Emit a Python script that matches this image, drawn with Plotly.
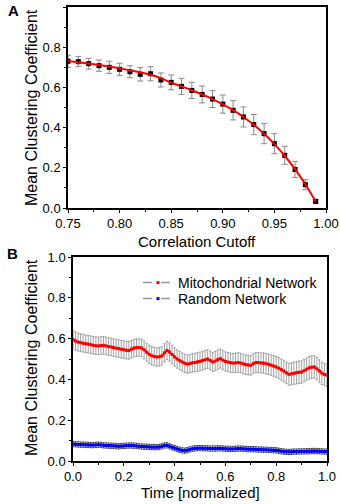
import plotly.graph_objects as go

# ---------- Panel A data ----------
cutoff = [0.75, 0.76, 0.77, 0.78, 0.79, 0.80, 0.81, 0.82, 0.83, 0.84, 0.85, 0.86, 0.87,
          0.88, 0.89, 0.90, 0.91, 0.92, 0.93, 0.94, 0.95, 0.96, 0.97, 0.98, 0.99]
clust_a = [0.730, 0.728, 0.718, 0.708, 0.700, 0.690, 0.678, 0.665, 0.668, 0.637, 0.625, 0.605, 0.585,
           0.565, 0.542, 0.517, 0.486, 0.453, 0.415, 0.370, 0.320, 0.262, 0.192, 0.116, 0.033]
err_a = [0.030, 0.025, 0.027, 0.028, 0.030, 0.030, 0.030, 0.033, 0.035, 0.035, 0.037, 0.040, 0.040,
         0.042, 0.042, 0.045, 0.048, 0.050, 0.050, 0.050, 0.050, 0.045, 0.040, 0.025, 0.010]
fit_a = [0.731, 0.725, 0.719, 0.712, 0.704, 0.695, 0.685, 0.675, 0.663, 0.646, 0.624, 0.605, 0.586,
         0.565, 0.542, 0.516, 0.487, 0.453, 0.414, 0.369, 0.318, 0.260, 0.193, 0.118, 0.032]

# ---------- Panel B data ----------
time_b = [round(i * 0.01, 2) for i in range(101)]
mito = [0.595, 0.588, 0.583, 0.580, 0.577, 0.575, 0.573, 0.570, 0.567, 0.565,
        0.564, 0.566, 0.567, 0.564, 0.561, 0.559, 0.556, 0.553, 0.551, 0.548,
        0.546, 0.543, 0.542, 0.548, 0.554, 0.556, 0.556, 0.554, 0.545, 0.533,
        0.523, 0.516, 0.512, 0.510, 0.511, 0.515, 0.530, 0.542, 0.534, 0.522,
        0.510, 0.500, 0.492, 0.485, 0.479, 0.475, 0.478, 0.481, 0.483, 0.485,
        0.488, 0.492, 0.496, 0.500, 0.493, 0.485, 0.490, 0.497, 0.502, 0.494,
        0.488, 0.485, 0.482, 0.480, 0.481, 0.483, 0.480, 0.476, 0.472, 0.470,
        0.469, 0.477, 0.483, 0.482, 0.481, 0.480, 0.477, 0.474, 0.470, 0.466,
        0.461, 0.455, 0.448, 0.441, 0.432, 0.425, 0.427, 0.430, 0.433, 0.435,
        0.436, 0.443, 0.450, 0.457, 0.460, 0.461, 0.452, 0.441, 0.430, 0.424,
        0.420]
mito_err = [0.045, 0.045, 0.044, 0.044, 0.043, 0.043, 0.043, 0.043, 0.043, 0.043,
            0.043, 0.043, 0.043, 0.043, 0.043, 0.043, 0.043, 0.043, 0.043, 0.043,
            0.043, 0.043, 0.043, 0.043, 0.043, 0.043, 0.043, 0.043, 0.044, 0.044,
            0.045, 0.045, 0.045, 0.045, 0.045, 0.045, 0.045, 0.045, 0.045, 0.045,
            0.045, 0.045, 0.045, 0.045, 0.045, 0.045, 0.045, 0.045, 0.045, 0.046,
            0.046, 0.046, 0.046, 0.046, 0.046, 0.046, 0.047, 0.047, 0.047, 0.047,
            0.047, 0.047, 0.047, 0.047, 0.048, 0.048, 0.048, 0.048, 0.048, 0.048,
            0.048, 0.049, 0.049, 0.049, 0.049, 0.050, 0.050, 0.050, 0.050, 0.051,
            0.051, 0.052, 0.052, 0.053, 0.053, 0.054, 0.054, 0.054, 0.055, 0.055,
            0.055, 0.055, 0.055, 0.055, 0.055, 0.055, 0.055, 0.055, 0.055, 0.055,
            0.055]
rand = [0.083, 0.082, 0.081, 0.080, 0.080, 0.079, 0.079, 0.078, 0.078, 0.079,
        0.080, 0.079, 0.077, 0.076, 0.075, 0.075, 0.074, 0.073, 0.072, 0.073,
        0.074, 0.075, 0.076, 0.076, 0.075, 0.074, 0.072, 0.071, 0.070, 0.070,
        0.069, 0.068, 0.068, 0.068, 0.069, 0.072, 0.076, 0.077, 0.072, 0.067,
        0.063, 0.059, 0.055, 0.052, 0.051, 0.053, 0.057, 0.060, 0.062, 0.063,
        0.063, 0.063, 0.062, 0.062, 0.061, 0.061, 0.061, 0.062, 0.062, 0.061,
        0.060, 0.059, 0.059, 0.059, 0.060, 0.061, 0.061, 0.060, 0.059, 0.058,
        0.058, 0.058, 0.057, 0.056, 0.056, 0.055, 0.055, 0.054, 0.054, 0.053,
        0.052, 0.050, 0.048, 0.046, 0.045, 0.044, 0.045, 0.046, 0.046, 0.047,
        0.047, 0.047, 0.048, 0.048, 0.049, 0.049, 0.049, 0.048, 0.047, 0.046,
        0.046]
rand_err = [0.013] * 101

FONT = "Liberation Sans, Arial, sans-serif"

fig = go.Figure()

# Panel A
fig.add_trace(go.Scatter(
    x=cutoff, y=clust_a, mode="markers", showlegend=False,
    marker=dict(symbol="square", size=5, color="black"),
    error_y=dict(type="data", array=err_a, color="#8a8a8a", thickness=1, width=3),
    xaxis="x", yaxis="y"))
fig.add_trace(go.Scatter(
    x=cutoff, y=fit_a, mode="lines", showlegend=False, line_shape="spline",
    line=dict(color="red", width=2), xaxis="x", yaxis="y"))

# Panel B
fig.add_trace(go.Scatter(
    x=time_b, y=mito, mode="lines+markers", showlegend=False,
    line=dict(color="red", width=2), marker=dict(symbol="square", size=3, color="red"),
    error_y=dict(type="data", array=mito_err, color="#8c8c8c", thickness=0.8, width=1.2),
    xaxis="x2", yaxis="y2"))
fig.add_trace(go.Scatter(
    x=time_b, y=rand, mode="lines+markers", showlegend=False,
    line=dict(color="blue", width=2), marker=dict(symbol="square", size=3, color="blue"),
    error_y=dict(type="data", array=rand_err, color="#222222", thickness=0.8, width=1.2),
    xaxis="x2", yaxis="y2"))

# legend entries
fig.add_trace(go.Scatter(
    x=[None], y=[None], mode="lines+markers", name="Mitochondrial Network", legend="legend",
    line=dict(color="#999999", width=1.5, dash="dash"),
    marker=dict(symbol="square", size=3, color="red"), xaxis="x2", yaxis="y2"))
fig.add_trace(go.Scatter(
    x=[None], y=[None], mode="lines+markers", name="Random Network", legend="legend2",
    line=dict(color="#999999", width=1.5, dash="dash"),
    marker=dict(symbol="square", size=3, color="blue"), xaxis="x2", yaxis="y2"))

axis_common = dict(
    showline=True, linecolor="black", linewidth=1.5, mirror=True,
    ticks="outside", ticklen=3, tickwidth=1, tickcolor="black",
    showgrid=False, zeroline=False, automargin=False,
    tickfont=dict(family=FONT, size=13, color="black"),
)

W, H = 340, 504
legend_common = dict(xanchor="left", yanchor="top", bgcolor="rgba(0,0,0,0)",
                     font=dict(family=FONT, size=14, color="black"))


def txt(text, x, y, size, angle=0, bold=False):
    return dict(text=f"<b>{text}</b>" if bold else text, x=x / W, y=1 - y / H,
                xref="paper", yref="paper", xanchor="center", yanchor="middle",
                textangle=angle, showarrow=False,
                font=dict(family=FONT, size=size, color="black"))


fig.update_layout(
    template="none",
    width=W, height=H,
    margin=dict(l=0, r=0, t=0, b=0),
    paper_bgcolor="white", plot_bgcolor="white",
    font=dict(family=FONT, color="black"),
    xaxis=dict(domain=[68 / W, 326 / W], range=[0.75, 1.0], tickvals=[0.75, 0.80, 0.85, 0.90, 0.95, 1.00],
               tickformat=".2f",
               minor=dict(dtick=0.025, tick0=0.75, ticks="outside", ticklen=2, tickcolor="black"),
               anchor="y", **axis_common),
    yaxis=dict(domain=[1 - 208 / H, 1 - 7 / H], range=[0.0, 1.0], dtick=0.2, tickformat=".1f",
               minor=dict(dtick=0.1, ticks="outside", ticklen=2, tickcolor="black"),
               anchor="x", **axis_common),
    xaxis2=dict(domain=[73 / W, 327 / W], range=[0.0, 1.0], dtick=0.2, tickformat=".1f",
                minor=dict(dtick=0.1, ticks="outside", ticklen=2, tickcolor="black"),
                anchor="y2", **axis_common),
    yaxis2=dict(domain=[1 - 461 / H, 1 - 257 / H], range=[0.0, 1.0], dtick=0.2, tickformat=".1f",
                minor=dict(dtick=0.1, ticks="outside", ticklen=2, tickcolor="black"),
                anchor="x2", **axis_common),
    legend=dict(x=138 / W, y=1 - 267 / H, **legend_common),
    legend2=dict(x=138 / W, y=1 - 283 / H, **legend_common),
    annotations=[
        txt("A", 13, 10, 15, bold=True),
        txt("B", 12, 253, 15, bold=True),
        txt("Correlation Cutoff", 197, 241, 15),
        txt("Time [normalized]", 200, 492, 15),
        txt("Mean Clustering Coefficient", 31, 108, 16, angle=-90),
        txt("Mean Clustering Coefficient", 31, 358, 16, angle=-90),
    ],
)

fig.write_html("out.html", config={"displayModeBar": False},
               post_script="document.body.style.margin='0';document.body.style.overflow='hidden';")
